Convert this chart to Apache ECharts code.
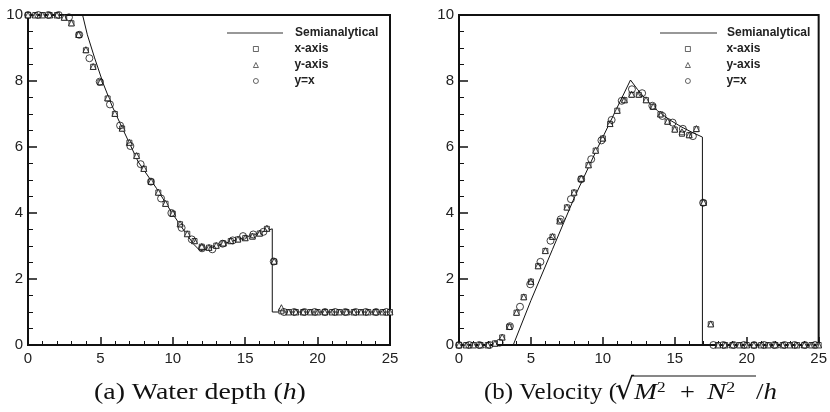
<!DOCTYPE html>
<html><head><meta charset="utf-8">
<script src="https://cdn.jsdelivr.net/npm/echarts@6/dist/echarts.min.js"></script>
<style>html,body{margin:0;padding:0;background:#fff}#c{width:830px;height:412px}</style>
</head><body><div id="c"></div><script>
// ---- data ----
const seriesNames = ['Semianalytical', 'x-axis', 'y-axis', 'y=x'];
const xTicks = [0, 5, 10, 15, 20, 25];
const yTicks = [0, 2, 4, 6, 8, 10];
// grid points along x-axis / y-axis directions
const xAxial = [0,0.5,1,1.5,2,2.5,3,3.5,4,4.5,5,5.5,6,6.5,7,7.5,8,8.5,9,9.5,10,10.5,11,11.5,12,12.5,13,13.5,14,14.5,15,15.5,16,16.5,17,17.5,18,18.5,19,19.5,20,20.5,21,21.5,22,22.5,23,23.5,24,24.5,25];
// grid points along diagonal y=x (radial distance)
const xDiag = [0,0.71,1.41,2.12,2.83,3.54,4.24,4.95,5.66,6.36,7.07,7.78,8.49,9.19,9.9,10.61,11.31,12.02,12.73,13.44,14.14,14.85,15.56,16.26,16.97,17.68,18.38,19.09,19.8,20.51,21.21,21.92,22.63,23.33,24.04,24.75];

// (a) water depth
const depthSemiX = [0,3.77,4.1,4.6,5.19,5.8,6.57,7.61,8.87,9.95,10.8,11.45,11.9,12.5,13.5,14.5,15.5,16.87,16.87,25];
const depthSemiY = [10,10,9.4,8.7,7.93,7.25,6.52,5.55,4.75,4.0,3.45,3.05,2.85,2.93,3.07,3.2,3.33,3.52,1.0,1.0];
const depthXAxis = [10,10,10,10,10,9.92,9.75,9.4,8.93,8.43,7.96,7.47,7.0,6.56,6.13,5.73,5.34,4.95,4.62,4.28,3.98,3.66,3.37,3.15,2.98,2.95,3.01,3.08,3.15,3.2,3.24,3.29,3.38,3.52,2.53,1.02,1,1,1,1,1,1,1,1,1,1,1,1,1,1,1];
const depthYAxis = [10,10,10,10,10,9.93,9.76,9.41,8.95,8.44,7.97,7.49,7.02,6.57,6.14,5.74,5.35,4.96,4.63,4.29,3.99,3.67,3.37,3.16,2.99,2.96,3.02,3.09,3.16,3.21,3.25,3.3,3.39,3.54,2.54,1.13,1,1,1,1,1,1,1,1,1,1,1,1,1,1,1];
const depthDiag = [10,10,10,10,9.93,9.4,8.69,7.98,7.29,6.65,6.03,5.48,4.95,4.44,4.0,3.55,3.2,2.93,2.9,3.07,3.17,3.3,3.35,3.43,2.53,1.0,1,1,1,1,1,1,1,1,1,1];

// (b) velocity
const velSemiX = [0,3.77,5,6.5,8,9.5,11,11.92,12.4,13.03,13.8,14.65,15.5,16.27,16.92,16.92,25];
const velSemiY = [0,0,1.35,2.9,4.45,5.85,7.2,8.03,7.75,7.42,7.1,6.82,6.6,6.43,6.3,0,0];
const velXAxis = [0,0,0,0,0,0.05,0.23,0.55,0.98,1.45,1.92,2.39,2.85,3.28,3.75,4.17,4.62,5.04,5.45,5.89,6.26,6.7,7.1,7.42,7.58,7.58,7.42,7.22,6.99,6.77,6.53,6.4,6.36,6.54,4.31,0.63,0,0,0,0,0,0,0,0,0,0,0,0,0,0,0];
const velYAxis = [0,0,0,0,0,0.05,0.24,0.56,0.99,1.46,1.93,2.4,2.86,3.29,3.76,4.18,4.63,5.05,5.46,5.9,6.27,6.71,7.11,7.43,7.6,7.6,7.43,7.23,7.0,6.78,6.54,6.46,6.37,6.56,4.32,0.64,0,0,0,0,0,0,0,0,0,0,0,0,0,0,0];
const velDiag = [0,0,0,0,0.07,0.57,1.16,1.84,2.52,3.16,3.81,4.42,5.02,5.63,6.2,6.82,7.4,7.75,7.63,7.25,6.94,6.74,6.55,6.33,4.31,0,0,0,0,0,0,0,0,0,0,0];

// ---- build ----
const zip = (xs, ys) => xs.map((x, i) => [x, ys[i]]);
const INK = '#111';
const grids = [
  {left: 28, top: 15, width: 362, height: 330, show: true, borderColor: INK, borderWidth: 2},
  {left: 459, top: 15, width: 361, height: 330, show: true, borderColor: INK, borderWidth: 2}
];
function xAx(gi) {
  return {type: 'value', gridIndex: gi, min: xTicks[0], max: xTicks[xTicks.length - 1], interval: xTicks[1] - xTicks[0],
    axisLine: {show: true, onZero: false, lineStyle: {color: INK, width: 2}},
    axisTick: {show: true, inside: true, length: 8, lineStyle: {color: INK, width: 1.5}},
    minorTick: {show: true, splitNumber: 5, length: 4, lineStyle: {color: INK, width: 1}},
    splitLine: {show: false},
    axisLabel: {color: '#222', fontSize: 15, fontFamily: 'Liberation Sans', margin: 6}};
}
function yAx(gi) {
  return {type: 'value', gridIndex: gi, min: yTicks[0], max: yTicks[yTicks.length - 1], interval: yTicks[1] - yTicks[0],
    axisLine: {show: true, onZero: false, lineStyle: {color: INK, width: 2}},
    axisTick: {show: true, inside: true, length: 9, lineStyle: {color: INK, width: 1.5}},
    minorTick: {show: true, splitNumber: 4, length: 5, lineStyle: {color: INK, width: 1}},
    splitLine: {show: false},
    axisLabel: {color: '#222', fontSize: 15, fontFamily: 'Liberation Sans', margin: 5}};
}
const markerStyle = {color: '#fff', borderColor: INK, borderWidth: 1};
function panel(gi, semiX, semiY, sx, sy, sd) {
  return [
    {name: seriesNames[0], type: 'line', xAxisIndex: gi, yAxisIndex: gi, data: zip(semiX, semiY),
      showSymbol: false, symbol: 'none', lineStyle: {color: INK, width: 1}, itemStyle: {color: INK}, z: 2, silent: true},
    {name: seriesNames[1], type: 'scatter', xAxisIndex: gi, yAxisIndex: gi, data: zip(xAxial, sx),
      symbol: 'rect', symbolSize: 5, itemStyle: markerStyle, z: 3},
    {name: seriesNames[2], type: 'scatter', xAxisIndex: gi, yAxisIndex: gi, data: zip(xAxial, sy),
      symbol: 'triangle', symbolSize: 6, itemStyle: markerStyle, z: 4},
    {name: seriesNames[3], type: 'scatter', xAxisIndex: gi, yAxisIndex: gi, data: zip(xDiag, sd),
      symbol: 'circle', symbolSize: 7, itemStyle: {color: 'rgba(255,255,255,0)', borderColor: INK, borderWidth: 1}, z: 5}
  ];
}
const legendText = {fontFamily: 'Liberation Sans', fontWeight: 'bold', fontSize: 12, color: '#222', lineHeight: 14};
function lineLegend(left, w, pad) {
  return {data: [{name: seriesNames[0], icon: 'rect'}], left: left, top: 21, orient: 'vertical',
    itemWidth: w, itemHeight: 1, selectedMode: false,
    itemStyle: {color: '#333', borderWidth: 0},
    textStyle: Object.assign({padding: [0, 0, 0, pad]}, legendText)};
}
function markerLegend(left) {
  return {data: seriesNames.slice(1), left: left, top: 37, orient: 'vertical',
    itemWidth: 5, itemHeight: 5, itemGap: 2, selectedMode: false,
    itemStyle: {borderWidth: 0.8},
    textStyle: Object.assign({padding: [0, 0, 0, 31]}, legendText)};
}
const serif = 'Liberation Serif';
const cap = {n: {fontFamily: serif, fontSize: 24, fill: '#111'}, i: {fontFamily: serif, fontStyle: 'italic', fontSize: 24, fill: '#111'},
  s: {fontFamily: serif, fontSize: 15, fill: '#111', padding: [0, 0, 10, 0]}};
function capText(x, text, sx) {
  return {type: 'text', x: x, y: 393, scaleX: sx, style: {text: text, verticalAlign: 'middle', textAlign: 'left', rich: cap}};
}
const option = {
  animation: false,
  backgroundColor: '#fff',
  grid: grids,
  xAxis: [xAx(0), xAx(1)],
  yAxis: [yAx(0), yAx(1)],
  legend: [lineLegend(222, 56, 7), markerLegend(248), lineLegend(655, 57, 5), markerLegend(680)],
  series: [].concat(
    panel(0, depthSemiX, depthSemiY, depthXAxis, depthYAxis, depthDiag),
    panel(1, velSemiX, velSemiY, velXAxis, velYAxis, velDiag)
  ),
  graphic: [
    capText(94, '{n|(a) Water depth (}{i|h}{n|)}', 1.16),
    capText(484, '{n|(b) Velocity (}', 1.04),
    {type: 'text', x: 615, y: 391, style: {text: '√', fontFamily: 'DejaVu Serif', fontSize: 30, fill: '#111', verticalAlign: 'middle', textAlign: 'left'}},
    capText(634, '{i|M}{s|2}', 1.15),
    capText(680, '{n|+}', 1.1),
    capText(707, '{i|N}{s|2}', 1.2),
    {type: 'line', shape: {x1: 631, y1: 376, x2: 756, y2: 376}, style: {stroke: '#111', lineWidth: 1.2}},
    capText(756, '{n|/}{i|h}', 1.12)
  ]
};
echarts.init(document.getElementById('c'), null, {renderer: 'canvas'}).setOption(option);
</script></body></html>
